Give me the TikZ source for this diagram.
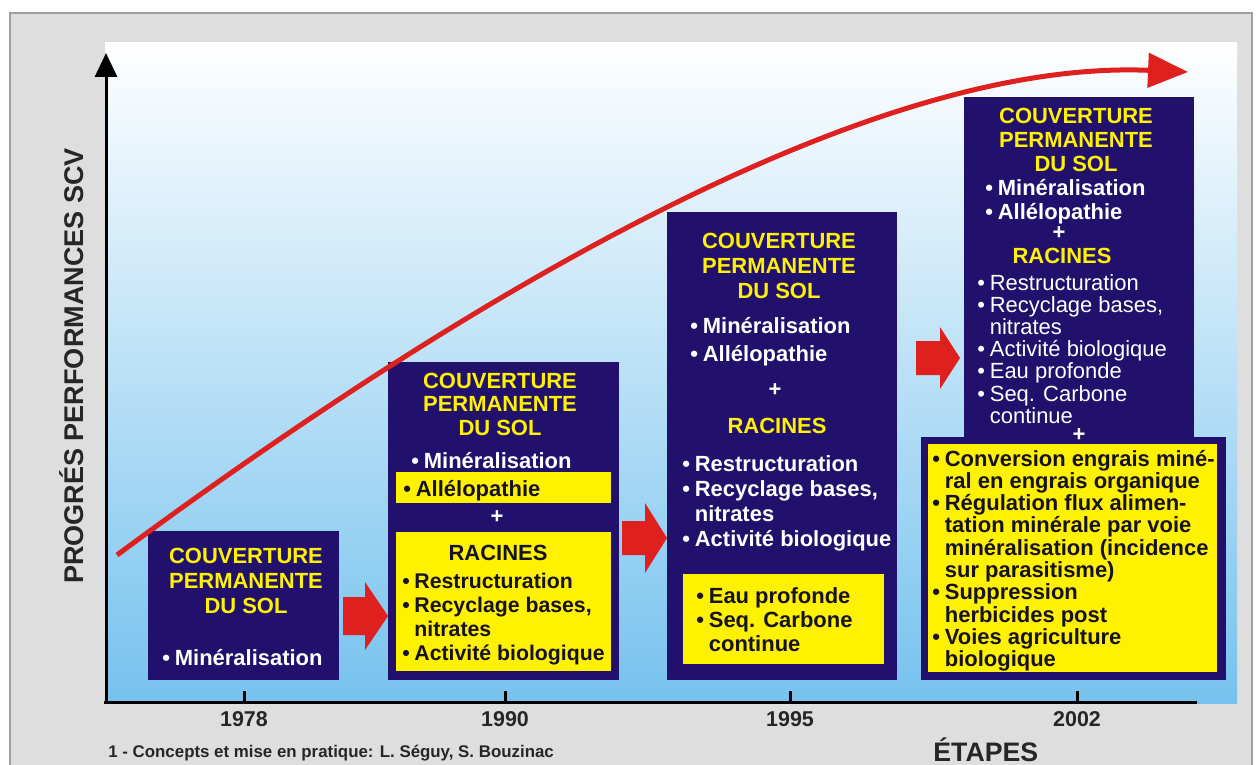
\documentclass[tikz,border=0pt]{standalone}
\usepackage{fontspec}
\setmainfont{Liberation Sans}
\usepackage{tikz}
\usetikzlibrary{arrows.meta}
\usepackage{xcolor}

\definecolor{navy}{RGB}{34,17,108}
\definecolor{yel}{RGB}{255,242,0}
\definecolor{redline}{RGB}{222,32,30}
\definecolor{skyblue}{RGB}{118,194,238}
\definecolor{panelgrey}{RGB}{222,222,222}
\definecolor{inkgrey}{RGB}{38,38,38}
\definecolor{ink}{RGB}{22,18,36}

\newcommand{\bigtxt}{\fontsize{12.5}{15}\selectfont}
\newcommand{\bul}{\textbullet\hspace{0.22em}}
\newcommand{\fatarrow}[6]{%
  \fill[redline] (#1,#3-#4) -- (#2-#6,#3-#4) -- (#2-#6,#3-#5) -- (#2,#3)
    -- (#2-#6,#3+#5) -- (#2-#6,#3+#4) -- (#1,#3+#4) -- cycle;}

\begin{document}
\begin{tikzpicture}[x=0.02cm, y=-0.02cm,
    navybox/.style={fill=navy, inner sep=0pt, outer sep=0pt, anchor=north west},
    yelbox/.style={fill=yel, inner sep=0pt, outer sep=0pt, anchor=north west},
    boxsize/.style 2 args={minimum width=#1*0.02cm, minimum height=#2*0.02cm},
    heading/.style={text=yel, font=\bigtxt\bfseries, inner sep=0pt, anchor=base},
    wline/.style={text=white, font=\bigtxt\bfseries, inner sep=0pt, anchor=base west},
    rline/.style={text=white, font=\bigtxt, inner sep=0pt, anchor=base west},
    kline/.style={text=ink, font=\bigtxt\bfseries, inner sep=0pt, anchor=base west},
    plussign/.style={text=white, font=\bigtxt\bfseries, inner sep=0pt},
    year/.style={text=inkgrey, font=\fontsize{12.2}{14}\selectfont\bfseries, inner sep=0pt, anchor=base},
    axisline/.style={line width=0.06cm},
  ]
  \useasboundingbox[fill=white] (0,0) rectangle (1256,764);
  \filldraw[fill=panelgrey, draw=gray!75, line width=0.03cm] (10,13) rectangle (1252,800);
  \shade[top color=white, bottom color=skyblue] (105,42) rectangle (1237,703);

  % axes
  \coordinate (origin) at (106,702);
  \coordinate (ytop) at (106,53);
  \coordinate (xend) at (1197,702);
  \draw[axisline, -{Triangle[length=0.48cm, width=0.44cm]}] (origin) -- (ytop);
  \draw[axisline] (104,702) -- (xend);
  \foreach \x/\yr in {244/1978, 505/1990, 790/1995, 1077/2002} {
    \draw[axisline] (\x,691) -- (\x,702);
    \node[year] (y\yr) at (\x,726) {\yr};
  }
  \node[text=inkgrey, font=\fontsize{15.4}{18}\selectfont\bfseries, rotate=90, anchor=base, inner sep=0pt]
    (ylabel) at (83,366) {PROGRÉS PERFORMANCES SCV};
  \node[text=inkgrey, font=\fontsize{15.2}{18}\selectfont\bfseries, anchor=base west, inner sep=0pt]
    (etapes) at (933,761) {ÉTAPES};
  \node[text=inkgrey, font=\fontsize{9.6}{11}\selectfont\bfseries, anchor=base west, inner sep=0pt]
    (source) at (108,757) {1 - Concepts et mise en pratique: L. Séguy, S. Bouzinac};

  % 1978
  \node[navybox, boxsize={191}{149}] (b78) at (148,531) {};
  \foreach \t [count=\i from 0] in {COUVERTURE, PERMANENTE, DU SOL}
    \node[heading] (h78-\i) at (246,563+25*\i) {\t};
  \node[wline] (m78) at (162,665) {\bul Minéralisation};

  % 1990
  \node[navybox, boxsize={231}{318}] (b90) at (388,362) {};
  \foreach \t [count=\i from 0] in {COUVERTURE, PERMANENTE, DU SOL}
    \node[heading] (h90-\i) at (500,388+23.5*\i) {\t};
  \node[wline] (m90) at (411,468) {\bul Minéralisation};
  \node[yelbox, boxsize={215}{31}] (al90) at (396,472) {};
  \node[kline] (a90) at (403,496) {\bul Allélopathie};
  \node[plussign] (p90) at (497,517) {+};
  \node[yelbox, boxsize={215}{139}] (r90) at (396,532) {};
  \node[kline, anchor=base] (rt90) at (498,560) {RACINES};
  \foreach \t [count=\i from 0] in {\bul Restructuration, {\bul Recyclage bases,},
      \hphantom{\bul}nitrates, \bul Activité biologique}
    \node[kline, font=\fontsize{12.1}{15}\selectfont\bfseries] (r90-\i) at (402,588+24.3*\i) {\t};

  % 1995
  \node[navybox, boxsize={230}{468}] (b95) at (667,212) {};
  \foreach \t [count=\i from 0] in {COUVERTURE, PERMANENTE, DU SOL}
    \node[heading] (h95-\i) at (779,248+25*\i) {\t};
  \node[wline] (m95) at (690,333) {\bul Minéralisation};
  \node[wline] (a95) at (690,361) {\bul Allélopathie};
  \node[plussign] (p95) at (775,390) {+};
  \node[heading] (rt95) at (777,433) {RACINES};
  \foreach \t [count=\i from 0] in {\bul Restructuration, {\bul Recyclage bases,},
      \hphantom{\bul}nitrates, \bul Activité biologique}
    \node[wline] (r95-\i) at (682,471+25*\i) {\t};
  \node[yelbox, boxsize={201}{90}] (e95) at (683,574) {};
  \foreach \t [count=\i from 0] in {\bul Eau profonde, \bul Seq. Carbone, \hphantom{\bul}continue}
    \node[kline] (e95-\i) at (696,603+24*\i) {\t};

  % 2002
  \node[navybox, boxsize={230}{341}] (b02) at (964,97) {};
  \node[navybox, boxsize={305}{243}] (c02) at (921,437) {};
  \foreach \t [count=\i from 0] in {COUVERTURE, PERMANENTE, DU SOL}
    \node[heading] (h02-\i) at (1076,123+24*\i) {\t};
  \node[wline] (m02) at (985,195) {\bul Minéralisation};
  \node[wline] (a02) at (985,219) {\bul Allélopathie};
  \node[plussign] (p02) at (1059,233) {+};
  \node[heading] (rt02) at (1062,263) {RACINES};
  \foreach \t [count=\i from 0] in {\bul Restructuration, {\bul Recyclage bases,},
      \hphantom{\bul}nitrates, \bul Activité biologique, \bul Eau profonde,
      \bul Seq. Carbone, \hphantom{\bul}continue}
    \node[rline] (r02-\i) at (977,290+22.2*\i) {\t};
  \node[plussign] (q02) at (1079,435) {+};
  \node[yelbox, boxsize={289}{228}] (y02) at (928,444) {};
  \foreach \t [count=\i from 0] in {\bul Conversion engrais miné-,
      \hphantom{\bul}ral en engrais organique, \bul Régulation flux alimen-,
      \hphantom{\bul}tation minérale par voie, \hphantom{\bul}minéralisation (incidence,
      \hphantom{\bul}sur parasitisme), \bul Suppression, \hphantom{\bul}herbicides post,
      \bul Voies agriculture, \hphantom{\bul}biologique}
    \node[kline] (y02-\i) at (932,466+22.3*\i) {\t};

  % progress curve
  \coordinate (c0) at (117,555);
  \coordinate (c1) at (1188,72);
  \draw[redline, line width=0.1cm, -{Triangle[length=0.8cm, width=0.68cm]}]
    (c0) .. controls (447,311) and (860,58) .. (c1);

  % steps
  \fatarrow{343}{388}{616}{19}{34}{23}
  \fatarrow{622}{667}{538}{17}{35}{22}
  \fatarrow{916}{960}{358}{17}{31}{20}
\end{tikzpicture}
\end{document}
